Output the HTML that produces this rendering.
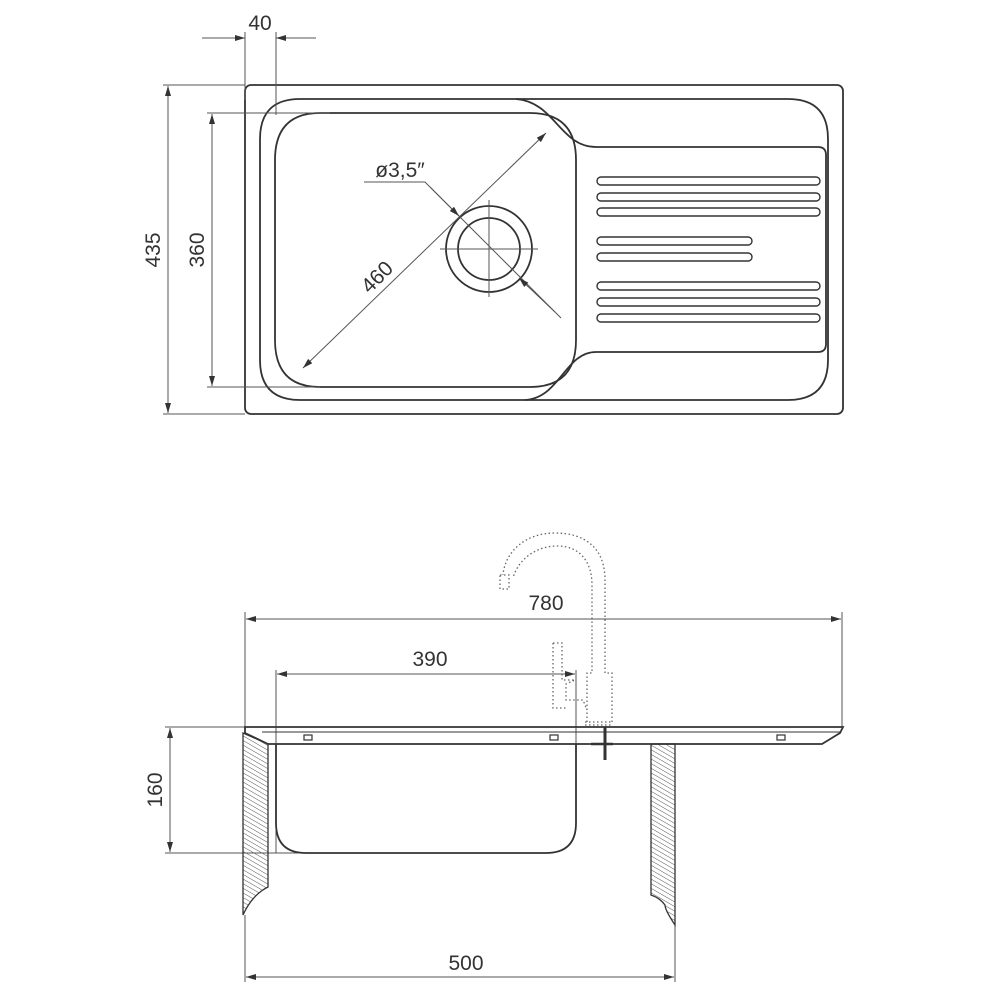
<!DOCTYPE html>
<html><head><meta charset="utf-8"><style>
html,body{margin:0;padding:0;background:#fff;}
svg{display:block}
text{font-family:"Liberation Sans",sans-serif;font-size:21px;fill:#333;}
</style></head><body>
<svg width="1000" height="1000" viewBox="0 0 1000 1000" xmlns="http://www.w3.org/2000/svg">
<defs>
<marker id="a" viewBox="0 0 10 6" refX="10" refY="3" markerWidth="14" markerHeight="6" markerUnits="userSpaceOnUse" orient="auto-start-reverse"><path d="M0,0 L10,3 L0,6 z" fill="#333"/></marker>
<pattern id="h" width="4" height="4" patternUnits="userSpaceOnUse" patternTransform="rotate(-60)"><line x1="0" y1="0" x2="0" y2="4" stroke="#555" stroke-width="1"/></pattern>
</defs>
<g fill="none" stroke="#333" stroke-width="1.8">
<rect x="245" y="85" width="598" height="329" rx="6"/>
<path d="M300,99 H788 Q828,99 828,139 V360 Q828,400 788,400 H300 Q260,400 260,360 V139 Q260,99 300,99 Z"/>
<path d="M516,99 C555,102 560,147 596,147 H818 Q826,147 826,155 V344 Q826,352 818,352 H596 C565,352 560,398 525,400"/>
<path d="M320,113 H530 Q576,113 576,160 V340 Q576,387 530,387 H320 Q275,387 275,340 V160 Q275,113 320,113 Z"/>
<circle cx="489" cy="249" r="43"/>
<circle cx="489" cy="249" r="31"/>
<g stroke-width="1.4">
<rect x="597" y="177" width="223" height="8" rx="4"/>
<rect x="597" y="193" width="223" height="8" rx="4"/>
<rect x="597" y="208" width="223" height="8" rx="4"/>
<rect x="597" y="237" width="155" height="8" rx="4"/>
<rect x="597" y="253" width="155" height="8" rx="4"/>
<rect x="597" y="282" width="223" height="8" rx="4"/>
<rect x="597" y="298" width="223" height="8" rx="4"/>
<rect x="597" y="314" width="223" height="8" rx="4"/>
</g>
</g>
<g fill="none" stroke="#555" stroke-width="1">
<line x1="440" y1="249" x2="538" y2="249"/><line x1="489" y1="200" x2="489" y2="297"/>
<line x1="245" y1="32" x2="245" y2="100"/><line x1="276" y1="32" x2="276" y2="115"/>
<line x1="202" y1="38" x2="245" y2="38" marker-end="url(#a)"/><line x1="316" y1="38" x2="276" y2="38" marker-end="url(#a)"/>
<line x1="163" y1="85" x2="245" y2="85"/><line x1="163" y1="414" x2="245" y2="414"/>
<line x1="168" y1="86" x2="168" y2="413" marker-start="url(#a)" marker-end="url(#a)"/>
<line x1="207" y1="113" x2="330" y2="113"/><line x1="207" y1="387" x2="320" y2="387"/>
<line x1="212" y1="114" x2="212" y2="386" marker-start="url(#a)" marker-end="url(#a)"/>
<line x1="303" y1="368" x2="546" y2="133" marker-start="url(#a)" marker-end="url(#a)"/>
<path d="M364,182 H425 L561,318"/>
<line x1="430" y1="187" x2="459" y2="216" marker-end="url(#a)"/>
<line x1="555" y1="312" x2="519" y2="278" marker-end="url(#a)"/>
<line x1="245" y1="612" x2="245" y2="728"/><line x1="842" y1="612" x2="842" y2="728"/>
<line x1="246" y1="619" x2="841" y2="619" marker-start="url(#a)" marker-end="url(#a)"/>
<line x1="276" y1="670" x2="276" y2="853"/><line x1="576" y1="670" x2="576" y2="745"/>
<line x1="277" y1="674" x2="575" y2="674" marker-start="url(#a)" marker-end="url(#a)"/>
<line x1="165" y1="727" x2="245" y2="727"/><line x1="165" y1="853" x2="300" y2="853"/>
<line x1="170" y1="728" x2="170" y2="852" marker-start="url(#a)" marker-end="url(#a)"/>
<line x1="245" y1="915" x2="245" y2="982"/><line x1="675" y1="925" x2="675" y2="982"/>
<line x1="246" y1="977" x2="674" y2="977" marker-start="url(#a)" marker-end="url(#a)"/>
</g>
<g fill="none" stroke="#333" stroke-width="1.8">
<path d="M245,727 H843 L840,733 L822,744 H268 L245,733 Z"/>
<line x1="262" y1="732" x2="840" y2="732" stroke-width="1.1"/>
<path d="M276,744 V823 Q276,853 306,853 H546 Q576,853 576,823 V744"/>
<g stroke-width="1.2"><rect x="304" y="735" width="8" height="5"/><rect x="550" y="735" width="8" height="5"/><rect x="777" y="735" width="8" height="5"/></g>
<path d="M243,733 L268,744 V887 Q252,895 243,915 Z" fill="url(#h)" stroke-width="1.3"/>
<path d="M651,744 H675 V925 Q665,910 665,905 Q660,898 651,895 Z" fill="url(#h)" stroke-width="1.3"/>
<line x1="605" y1="727" x2="605" y2="760" stroke-width="3"/>
<line x1="591" y1="744" x2="613" y2="744" stroke-width="2.5"/>
</g>
<g fill="none" stroke="#666" stroke-width="1.3" stroke-dasharray="1.5 2.5">
<path d="M587,722 V673 H592 V585 C592,560 578,546 558,546 C535,546 518,560 513,578"/>
<path d="M612,722 V673 H605 V580 C605,548 585,533 555,533 C525,533 505,552 503,575"/>
<rect x="500" y="575" width="9" height="14"/>
<path d="M553,643 H562 V680 H575 L566,684 V700 H583 L587,710 M553,643 V708 H566"/>
<path d="M585,722 H612 M585,725 H612"/>
</g>
<text x="260" y="30" text-anchor="middle">40</text>
<text transform="translate(160,250) rotate(-90)" text-anchor="middle">435</text>
<text transform="translate(204,250) rotate(-90)" text-anchor="middle">360</text>
<text transform="translate(382,282) rotate(-45)" text-anchor="middle">460</text>
<text x="400" y="177" text-anchor="middle">ø3,5″</text>
<text x="546" y="610" text-anchor="middle">780</text>
<text x="430" y="666" text-anchor="middle">390</text>
<text transform="translate(162,790) rotate(-90)" text-anchor="middle">160</text>
<text x="466" y="970" text-anchor="middle">500</text>
</svg>
</body></html>
